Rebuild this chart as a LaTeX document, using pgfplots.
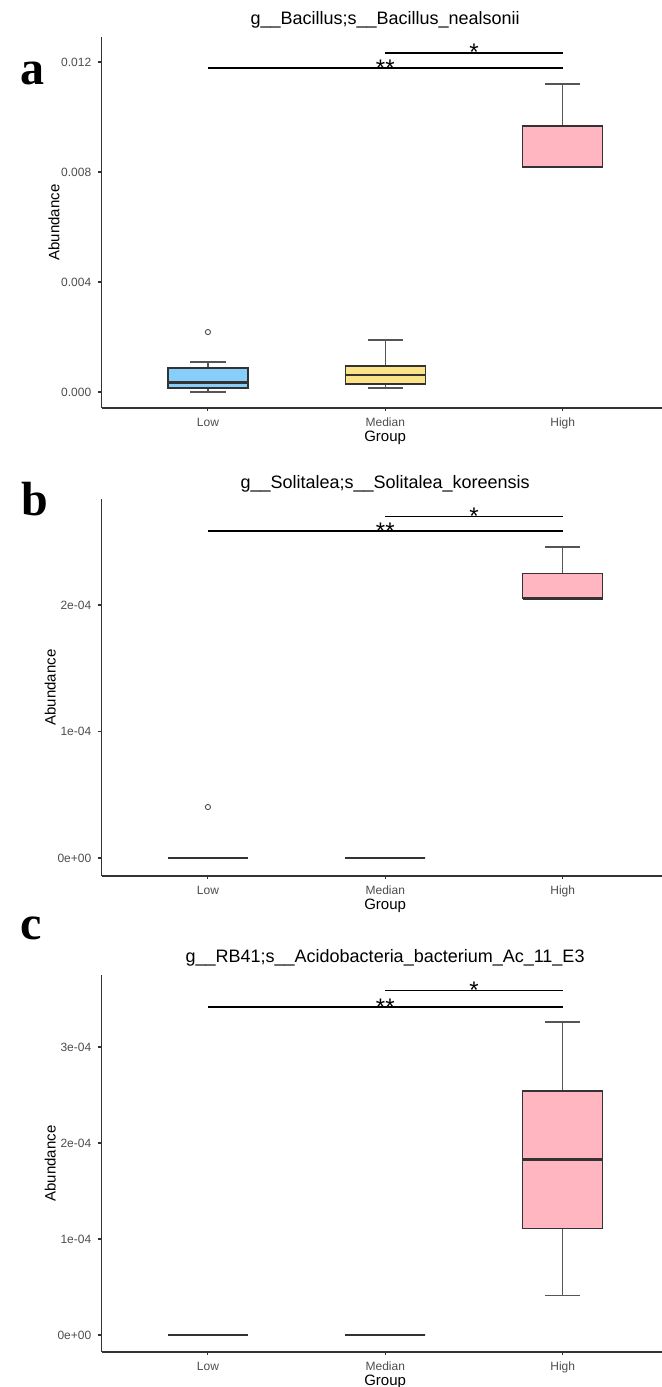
\documentclass[border=0pt]{standalone}
\usepackage{pgfplots}
\pgfplotsset{compat=1.18}
\usepgfplotslibrary{statistics}
\usepackage{fontspec}
\setmainfont{Liberation Sans}
\newfontfamily\letterfont{Liberation Serif}
\definecolor{lowc}{HTML}{87CEFA}
\definecolor{medc}{HTML}{FCE38A}
\definecolor{highc}{HTML}{FFB6C1}
\definecolor{axc}{HTML}{333333}
\definecolor{whc}{HTML}{555555}
\definecolor{tickc}{HTML}{4D4D4D}
\pgfplotsset{
  rbox/.style={
    scale only axis, width=280.25pt,
    axis lines=left, axis line style={-, draw=axc, line width=0.65pt},
    xmin=0.4, xmax=3.56,
    xtick={1,2,3}, xticklabels={Low,Median,High},
    tick align=outside, major tick length=1.6pt,
    tick style={draw=axc, line width=0.55pt},
    ticklabel style={font=\fontsize{6}{7}\selectfont, text=tickc},
    xlabel={Group}, ylabel={Abundance}, ylabel shift=-6pt,
    label style={font=\fontsize{7.5}{9}\selectfont},
    xlabel style={at={(axis description cs:0.506,0)}, anchor=center, yshift=-15pt},
    title style={font=\fontsize{9}{11}\selectfont, at={(axis description cs:0.506,1)}, anchor=center},
    clip=false,
    boxplot/draw direction=y,
    boxplot/box extend=0.45, boxplot/whisker extend=0.2,
    boxplot/every box/.style={draw=axc, line width=0.7pt},
    boxplot/every whisker/.style={draw=whc, line width=0.7pt},
    boxplot/every median/.style={draw=axc, line width=1.4pt},
  },
  sig/.style={black, line width=0.85pt},
}
\begin{document}
\begin{tikzpicture}
\path[use as bounding box] (0,0) rectangle (331pt,693.5pt);
% ---------------- panel a ----------------
\begin{axis}[rbox, at={(50.75pt,489.5pt)}, anchor=south west, height=185.5pt,
  ymin=-0.58, ymax=12.91, ytick={0,4,8,12}, yticklabels={0.000,0.004,0.008,0.012},
  title={g\_\_Bacillus;s\_\_Bacillus\_nealsonii}, title style={yshift=2.5pt}]
\addplot[boxplot prepared={draw position=1, lower whisker=0, lower quartile=0.15, median=0.36, upper quartile=0.87, upper whisker=1.09}, fill=lowc, draw=axc, mark=o, mark size=1.3pt, mark options={draw=tickc, line width=0.45pt}] table[row sep=\\, y index=0] {y\\ 2.18\\};
\addplot[boxplot prepared={draw position=2, lower whisker=0.15, lower quartile=0.29, median=0.62, upper quartile=0.95, upper whisker=1.89}, fill=medc, draw=axc] coordinates {};
\addplot[boxplot prepared={draw position=3, lower whisker=8.18, lower quartile=8.18, median=8.18, upper quartile=9.67, upper whisker=11.2}, fill=highc, draw=axc] coordinates {};
\addplot[sig] coordinates {(1,11.78) (3,11.78)};
\addplot[sig] coordinates {(2,12.33) (3,12.33)};
\node[font=\fontsize{12}{12}\selectfont, anchor=base, yshift=-4.2pt] at (axis cs:2,11.78) {**};
\node[font=\fontsize{12}{12}\selectfont, anchor=base, yshift=-4pt] at (axis cs:2.5,12.33) {*};
\end{axis}
% ---------------- panel b ----------------
\begin{axis}[rbox, at={(50.75pt,255.5pt)}, anchor=south west, height=188.5pt,
  ymin=-0.142, ymax=2.838, ytick={0,1,2}, yticklabels={0e+00,1e-04,2e-04},
  title={g\_\_Solitalea;s\_\_Solitalea\_koreensis}, title style={yshift=1.5pt}]
\addplot[boxplot prepared={draw position=1, lower whisker=0, lower quartile=0, median=0, upper quartile=0, upper whisker=0}, fill=lowc, draw=axc, mark=o, mark size=1.3pt, mark options={draw=tickc, line width=0.45pt}] table[row sep=\\, y index=0] {y\\ 0.403\\};
\addplot[boxplot prepared={draw position=2, lower whisker=0, lower quartile=0, median=0, upper quartile=0, upper whisker=0}, fill=medc, draw=axc] coordinates {};
\addplot[boxplot prepared={draw position=3, lower whisker=2.05, lower quartile=2.05, median=2.05, upper quartile=2.25, upper whisker=2.46}, fill=highc, draw=axc] coordinates {};
\addplot[sig] coordinates {(1,2.585) (3,2.585)};
\addplot[sig] coordinates {(2,2.70) (3,2.70)};
\node[font=\fontsize{12}{12}\selectfont, anchor=base, yshift=-4.2pt] at (axis cs:2,2.585) {**};
\node[font=\fontsize{12}{12}\selectfont, anchor=base, yshift=-4pt] at (axis cs:2.5,2.70) {*};
\end{axis}
% ---------------- panel c ----------------
\begin{axis}[rbox, at={(50.75pt,17.5pt)}, anchor=south west, height=188.5pt,
  ymin=-0.177, ymax=3.75, ytick={0,1,2,3}, yticklabels={0e+00,1e-04,2e-04,3e-04},
  title={g\_\_RB41;s\_\_Acidobacteria\_bacterium\_Ac\_11\_E3}, title style={yshift=2.5pt}]
\addplot[boxplot prepared={draw position=1, lower whisker=0, lower quartile=0, median=0, upper quartile=0, upper whisker=0}, fill=lowc, draw=axc] coordinates {};
\addplot[boxplot prepared={draw position=2, lower whisker=0, lower quartile=0, median=0, upper quartile=0, upper whisker=0}, fill=medc, draw=axc] coordinates {};
\addplot[boxplot prepared={draw position=3, lower whisker=0.41, lower quartile=1.11, median=1.83, upper quartile=2.54, upper whisker=3.26}, fill=highc, draw=axc] coordinates {};
\addplot[sig] coordinates {(1,3.42) (3,3.42)};
\addplot[sig] coordinates {(2,3.59) (3,3.59)};
\node[font=\fontsize{12}{12}\selectfont, anchor=base, yshift=-4.2pt] at (axis cs:2,3.42) {**};
\node[font=\fontsize{12}{12}\selectfont, anchor=base, yshift=-4pt] at (axis cs:2.5,3.59) {*};
\end{axis}
% panel letters
\node[font=\letterfont\bfseries\fontsize{24}{24}\selectfont] at (16pt,657pt) {a};
\node[font=\letterfont\bfseries\fontsize{24}{24}\selectfont] at (17.5pt,444pt) {b};
\node[font=\letterfont\bfseries\fontsize{24}{24}\selectfont] at (15.5pt,229.5pt) {c};
\end{tikzpicture}
\end{document}
